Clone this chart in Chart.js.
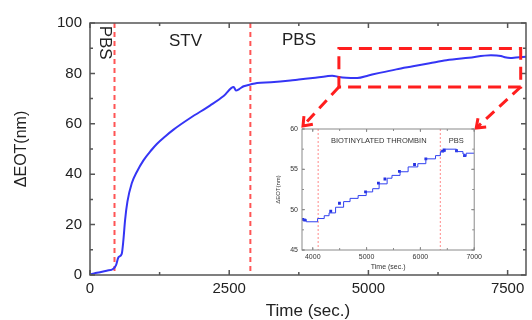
<!DOCTYPE html>
<html><head><meta charset="utf-8">
<script src="https://cdn.jsdelivr.net/npm/chart.js@4.4.0/dist/chart.umd.min.js"></script>
<style>
html,body{margin:0;padding:0;background:#fff;}
#wrap{position:relative;width:532px;height:320px;overflow:hidden;}
#main{position:absolute;left:0;top:0;}
#inset{position:absolute;left:270px;top:118px;}
</style></head><body>
<div id="wrap">
<canvas id="main" width="532" height="320"></canvas>
<canvas id="inset" width="215" height="157"></canvas>
</div>
<script>
// ---------- data ----------
const MAIN_TIME = [0,100,200,300,420,468,510,570,600,630,672,750,840,960,1100,1200,1350,1500,1800,2160,2400,2580,2622,2680,2760,2880,3000,3250,3600,3750,4000,4250,4350,4470,4600,4800,5000,5200,5500,5800,6100,6400,6800,7200,7380,7450,7550,7650,7830];
const MAIN_EOT  = [0.2,0.8,1.2,1.7,2.5,3.9,7.0,8.4,13.9,21.8,29.1,36.4,40.9,45.5,49.5,52.0,55.0,57.7,62.3,67.3,71.0,74.6,73.2,73.8,74.9,75.6,76.2,76.5,77.2,77.6,78.2,78.9,79.1,78.6,78.3,78.2,79.2,80.2,81.6,82.8,84.0,85.2,86.2,87.2,86.9,86.4,86.1,86.3,86.6];
const MAIN_X_TICKS = [0,2500,5000,7500];
const MAIN_Y_TICKS = [0,20,40,60,80,100];
const MAIN_EVENTS = [440,2880];
const MAIN_PHASES = ['PBS','STV','PBS'];
const ZOOM_TIME_RANGE = [4470,7735];
const ZOOM_EOT_RANGE = [74.6,89.9];

const INSET_TIME = [3800,3880,4090,4213,4303,4424,4573,4693,4843,4993,5113,5233,5382,5472,5622,5772,5952,6101,6281,6371,6461,6671,6791,6821,6851,7000];
const INSET_EOT  = [48.8,48.5,48.9,49.25,49.6,50.3,51.0,51.4,51.75,52.2,52.6,53.2,53.9,54.25,54.7,55.3,55.7,56.3,56.7,57.2,57.5,57.2,56.9,56.6,57.0,57.0];
const INSET_DOT_TIME = [3815,3850,4334,4496,4981,5220,5341,5610,5891,6101,6412,6440,6671,6820];
const INSET_DOT_EOT  = [48.8,48.7,49.8,50.8,52.2,53.3,53.8,54.75,55.6,56.3,57.25,57.4,57.3,56.7];
const INSET_X_TICKS = [4000,5000,6000,7000];
const INSET_Y_TICKS = [45,50,55,60];
const INSET_EVENTS = [4100,6370];
const INSET_PHASES = ['BIOTINYLATED THROMBIN','PBS'];

// ---------- annotation placement (data coords) ----------
const MAIN_PHASE_AT = [[270,92.2],[1714,92.9],[3754,93.0]];
const MAIN_PHASE_ROT = [Math.PI/2,0,0];
const INSET_PHASE_AT = [[5226,58.5],[6664,58.5]];

// ---------- plugins ----------
const frameTicks = {
  id:'frameTicks',
  afterDatasetsDraw(chart,args,o){
    const {ctx,chartArea:a,scales:{x,y}} = chart;
    ctx.save();
    ctx.strokeStyle=o.color; ctx.lineWidth=o.width;
    ctx.beginPath();
    const mk=(step,len,axis)=>{
      const s = axis==='x'?x:y;
      for(let v=Math.ceil(s.min/step)*step; v<=s.max+1e-9; v+=step){
        const p=s.getPixelForValue(v);
        if(axis==='x'){ctx.moveTo(p,a.bottom);ctx.lineTo(p,a.bottom-len);ctx.moveTo(p,a.top);ctx.lineTo(p,a.top+len);}
        else {ctx.moveTo(a.left,p);ctx.lineTo(a.left+len,p);ctx.moveTo(a.right,p);ctx.lineTo(a.right-len,p);}
      }
    };
    mk(o.xMajor,o.major,'x'); mk(o.xMinor,o.minor,'x');
    mk(o.yMajor,o.major,'y'); mk(o.yMinor,o.minor,'y');
    ctx.stroke();
    ctx.strokeRect(a.left,a.top,a.right-a.left,a.bottom-a.top);
    ctx.restore();
  }
};
const eventLines = {
  id:'eventLines',
  beforeDatasetsDraw(chart,args,o){
    const {ctx,chartArea:a,scales:{x}} = chart;
    ctx.save(); ctx.strokeStyle=o.color; ctx.lineWidth=o.width; ctx.setLineDash(o.dash);
    o.values.forEach(v=>{const p=x.getPixelForValue(v);ctx.beginPath();ctx.moveTo(p,a.top);ctx.lineTo(p,a.bottom);ctx.stroke();});
    ctx.restore();
  }
};
const phaseLabels = {
  id:'phaseLabels',
  afterDraw(chart,args,o){
    const {ctx,scales:{x,y}} = chart;
    ctx.save(); ctx.fillStyle=o.color; ctx.font=o.font; ctx.textAlign='center'; ctx.textBaseline='middle';
    o.texts.forEach((t,i)=>{
      const px=x.getPixelForValue(o.at[i][0]), py=y.getPixelForValue(o.at[i][1]);
      ctx.save(); ctx.translate(px,py); ctx.rotate(o.rot?o.rot[i]:0); ctx.fillText(t,0,0); ctx.restore();
    });
    ctx.restore();
  }
};
const whiteArea = {
  id:'whiteArea',
  beforeDraw(chart){const {ctx,chartArea:a}=chart; ctx.save(); ctx.fillStyle='#fff'; ctx.fillRect(a.left,a.top,a.right-a.left,a.bottom-a.top); ctx.restore();}
};

// ---------- inset chart ----------
const insetCanvas = document.getElementById('inset');
const smallFont = {family:'Liberation Sans, Arial, sans-serif', size:7};
const insetChart = new Chart(insetCanvas, {
  type:'line',
  data:{datasets:[
    {data:INSET_TIME.map((t,i)=>({x:t,y:INSET_EOT[i]})), stepped:true, borderColor:'#3040f0', borderWidth:1, pointRadius:0, fill:false},
    {data:INSET_DOT_TIME.map((t,i)=>({x:t,y:INSET_DOT_EOT[i]})), showLine:false, pointStyle:'rect', pointRadius:2, backgroundColor:'#2530e0', borderWidth:0}
  ]},
  options:{
    responsive:false, animation:false, devicePixelRatio:1,
    layout:{padding:{top:11,right:5,left:0,bottom:0}},
    plugins:{legend:{display:false},tooltip:{enabled:false},
      frameTicks:{color:'#8a8a8a',width:1,major:3,minor:2,xMajor:1000,xMinor:500,yMajor:5,yMinor:2.5},
      eventLines:{values:INSET_EVENTS,color:'#ff8a8a',width:1,dash:[2,2]},
      phaseLabels:{texts:INSET_PHASES,at:INSET_PHASE_AT,color:'#333',font:'7.5px "Liberation Sans", Arial, sans-serif'}
    },
    scales:{
      x:{type:'linear',min:3800,max:7000,
        afterBuildTicks:s=>{s.ticks=INSET_X_TICKS.map(v=>({value:v}));},
        grid:{display:false,drawTicks:false},border:{display:false},
        ticks:{padding:3,color:'#333',font:smallFont,maxRotation:0,autoSkip:false,callback:v=>String(v)},
        title:{display:true,text:'Time (sec.)',color:'#333',font:{...smallFont,lineHeight:1},padding:{top:0,bottom:4}},
        afterFit:s=>{s.height=25;}},
      y:{type:'linear',min:45,max:60,
        afterBuildTicks:s=>{s.ticks=INSET_Y_TICKS.map(v=>({value:v}));},
        grid:{display:false,drawTicks:false},border:{display:false},
        ticks:{padding:4,color:'#333',font:smallFont,autoSkip:false,callback:v=>String(v)},
        title:{display:true,text:'ΔEOT(nm)',color:'#333',font:{family:'Liberation Sans, Arial, sans-serif',size:6,lineHeight:1},padding:{top:5,bottom:0}},
        afterFit:s=>{s.width=32;}}
    }
  },
  plugins:[whiteArea,eventLines,frameTicks,phaseLabels]
});

// ---------- main chart ----------
const zoomBox = {
  id:'zoomBox',
  afterDraw(chart,args,o){
    const {ctx,scales:{x,y}} = chart;
    const l=x.getPixelForValue(ZOOM_TIME_RANGE[0]), r=x.getPixelForValue(ZOOM_TIME_RANGE[1]);
    const t=y.getPixelForValue(ZOOM_EOT_RANGE[1]), b=y.getPixelForValue(ZOOM_EOT_RANGE[0]);
    ctx.save();
    ctx.strokeStyle=o.color; ctx.lineWidth=3; ctx.setLineDash([13,7]);
    ctx.strokeRect(l,t,r-l,b-t);
    const ia=insetChart.chartArea, ox=insetCanvas.offsetLeft, oy=insetCanvas.offsetTop;
    const arrow=(sx,sy,tx,ty)=>{
      ctx.setLineDash([11,7]); ctx.beginPath(); ctx.moveTo(sx,sy); ctx.lineTo(tx,ty); ctx.stroke();
      ctx.setLineDash([]);
      const ang=Math.atan2(ty-sy,tx-sx), len=10;
      ctx.beginPath();
      ctx.moveTo(tx-len*Math.cos(ang-0.65),ty-len*Math.sin(ang-0.65));
      ctx.lineTo(tx,ty);
      ctx.lineTo(tx-len*Math.cos(ang+0.65),ty-len*Math.sin(ang+0.65));
      ctx.stroke();
    };
    arrow(l,b,ox+ia.left+1,oy+ia.top-3);
    arrow(r,b,ox+ia.right+2,oy+ia.top-1);
    ctx.restore();
  }
};
const bigFont = {family:'Liberation Sans, Arial, sans-serif', size:15};
new Chart(document.getElementById('main'), {
  type:'line',
  data:{datasets:[
    {data:MAIN_TIME.map((t,i)=>({x:t,y:MAIN_EOT[i]})), borderColor:'#3535f5', borderWidth:2, pointRadius:0, cubicInterpolationMode:'monotone', fill:false}
  ]},
  options:{
    responsive:false, animation:false, devicePixelRatio:1,
    layout:{padding:{top:23,right:6,left:0,bottom:0}},
    plugins:{legend:{display:false},tooltip:{enabled:false},
      frameTicks:{color:'#555',width:1.5,major:5,minor:3,xMajor:2500,xMinor:1250,yMajor:20,yMinor:10},
      eventLines:{values:MAIN_EVENTS,color:'#ff5555',width:2,dash:[5,4]},
      phaseLabels:{texts:MAIN_PHASES,at:MAIN_PHASE_AT,rot:MAIN_PHASE_ROT,color:'#222',font:'17px "Liberation Sans", Arial, sans-serif'},
      zoomBox:{color:'#ff1e1e'}
    },
    scales:{
      x:{type:'linear',min:0,max:7830,
        afterBuildTicks:s=>{s.ticks=MAIN_X_TICKS.map(v=>({value:v}));},
        grid:{display:false,drawTicks:false},border:{display:false},
        ticks:{padding:5,color:'#222',font:bigFont,maxRotation:0,autoSkip:false,callback:v=>String(v)},
        title:{display:true,text:'Time (sec.)',color:'#222',font:{family:'Liberation Sans, Arial, sans-serif',size:17,lineHeight:1},padding:{top:0,bottom:0}},
        afterFit:s=>{s.height=45;}},
      y:{type:'linear',min:0,max:100,
        afterBuildTicks:s=>{s.ticks=MAIN_Y_TICKS.map(v=>({value:v}));},
        grid:{display:false,drawTicks:false},border:{display:false},
        ticks:{padding:8,color:'#222',font:bigFont,autoSkip:false,callback:v=>String(v)},
        title:{display:true,text:'ΔEOT(nm)',color:'#222',font:{family:'Liberation Sans, Arial, sans-serif',size:16,lineHeight:1},padding:{top:14,bottom:0}},
        afterFit:s=>{s.width=90;}}
    }
  },
  plugins:[eventLines,frameTicks,phaseLabels,zoomBox]
});
</script>
</body></html>
